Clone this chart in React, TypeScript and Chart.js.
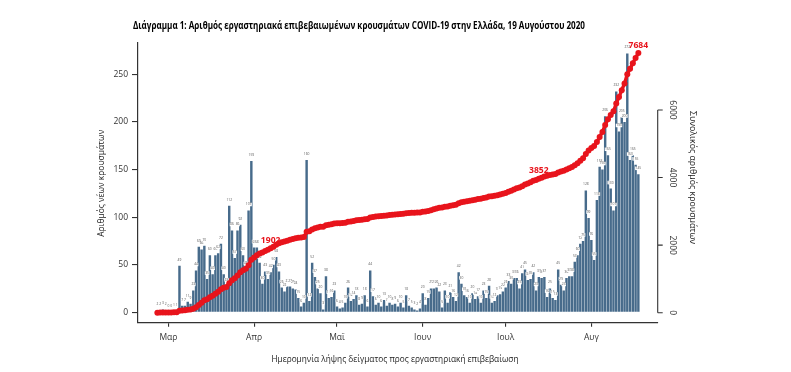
import React, { useEffect, useRef } from "react";
import { Chart, registerables } from "chart.js";

Chart.register(...registerables);

// ---------- DATA ----------
const startDate = { year: 2020, month: 1, day: 26 }; // 26 Feb 2020 (month 0-based)

const febCases = [2, 2, 3, 2];
const marCases = [0, 0, 1, 1, 49, 7, 7, 11, 9, 23, 44, 69, 66, 70, 35, 60, 40, 60, 62, 72, 40, 28, 112, 86, 57, 86, 92, 60, 45, 107, 159];
const aprCases = [68, 68, 52, 30, 43, 35, 42, 50, 58, 43, 26, 22, 27, 27, 25, 24, 15, 6, 10, 160, 12, 52, 37, 25, 20, 3, 38, 15, 16, 23];
const mayCases = [6, 4, 5, 10, 26, 12, 14, 18, 8, 9, 18, 6, 44, 17, 8, 10, 6, 13, 7, 10, 8, 9, 6, 10, 5, 18, 7, 5, 3, 2, 4];
const junCases = [20, 8, 15, 25, 25, 26, 22, 5, 23, 10, 21, 16, 12, 42, 30, 18, 16, 10, 20, 14, 17, 10, 23, 15, 28, 10, 12, 18, 19, 22];
const julCases = [26, 33, 30, 36, 36, 25, 41, 45, 34, 35, 42, 23, 37, 36, 37, 16, 25, 15, 13, 45, 29, 23, 36, 38, 38, 53, 60, 72, 75, 128, 99];
const augCases = [76, 55, 118, 153, 150, 206, 165, 130, 107, 232, 190, 205, 200, 272, 160, 165, 155, 145];

const dailyCases = [...febCases, ...marCases, ...aprCases, ...mayCases, ...junCases, ...julCases, ...augCases];

const monthTickLabels = ["Μαρ", "Απρ", "Μαϊ", "Ιουν", "Ιουλ", "Αυγ"];
const leftTickValues = [0, 50, 100, 150, 200, 250];
const rightTickValues = [0, 2000, 4000, 6000];

const annotationDates = ["2020-04-07", "2020-07-13", "2020-08-18"];
const annotationTexts = ["1902", "3852", "7684"];

const chartTitle = "Διάγραμμα 1: Αριθμός εργαστηριακά επιβεβαιωμένων κρουσμάτων COVID-19 στην Ελλάδα, 19 Αυγούστου 2020";
const xAxisTitle = "Ημερομηνία λήψης δείγματος προς εργαστηριακή επιβεβαίωση";
const leftAxisTitle = "Αριθμός νέων κρουσμάτων";
const rightAxisTitle = "Συνολικός αριθμός κρουσμάτων";

// ---------- DERIVED ----------
const dates = dailyCases.map((_, i) => new Date(Date.UTC(startDate.year, startDate.month, startDate.day + i)));
const isoDates = dates.map((d) => d.toISOString().slice(0, 10));
const monthStartIdx = dates.map((d, i) => (d.getUTCDate() === 1 ? i : -1)).filter((i) => i >= 0);
const cumulative: number[] = [];
dailyCases.reduce((acc, v) => {
  const s = acc + v;
  cumulative.push(s);
  return s;
}, 0);
const annotationIdx = annotationDates.map((d) => isoDates.indexOf(d));

// ---------- STYLE ----------
const BAR_COLOR = "#476b8b";
const RED = "#e8141c";
const AXIS = "#333333";
const FONT = '"Open Sans", "DejaVu Sans", sans-serif';

const overlayPlugin = {
  id: "overlay",
  afterDatasetDraw(chart: any, args: any) {
    if (args.index !== 0) return;
    const ctx = chart.ctx;
    const meta = chart.getDatasetMeta(0);
    ctx.save();
    ctx.font = `3.3px ${FONT}`;
    ctx.textAlign = "center";
    ctx.textBaseline = "middle";
    meta.data.forEach((bar: any, i: number) => {
      const t = String(dailyCases[i]);
      const w = ctx.measureText(t).width + 0.8;
      const h = 3.6;
      const cy = bar.y - 6;
      ctx.fillStyle = "#ffffff";
      ctx.fillRect(bar.x - w / 2, cy - h / 2, w, h);
      ctx.fillStyle = "#555555";
      ctx.fillText(t, bar.x, cy);
    });
    ctx.restore();
  },
  afterDraw(chart: any) {
    const ctx = chart.ctx;
    const area = chart.chartArea;
    const y2 = chart.scales.y2;
    const xs = chart.scales.x;
    ctx.save();

    // right axis
    const rx = area.right;
    ctx.strokeStyle = AXIS;
    ctx.lineWidth = 1.1;
    ctx.beginPath();
    ctx.moveTo(rx, y2.getPixelForValue(rightTickValues[0]));
    ctx.lineTo(rx, y2.getPixelForValue(rightTickValues[rightTickValues.length - 1]));
    rightTickValues.forEach((v) => {
      const py = y2.getPixelForValue(v);
      ctx.moveTo(rx, py);
      ctx.lineTo(rx + 5, py);
    });
    ctx.stroke();
    ctx.fillStyle = AXIS;
    ctx.font = `8.5px ${FONT}`;
    ctx.textAlign = "center";
    ctx.textBaseline = "middle";
    rightTickValues.forEach((v) => {
      const py = y2.getPixelForValue(v);
      ctx.save();
      ctx.translate(rx + 14.5, py);
      ctx.rotate(Math.PI / 2);
      ctx.fillText(String(v), 0, 0);
      ctx.restore();
    });

    // axis titles
    ctx.fillStyle = "#222222";
    ctx.font = `8.8px ${FONT}`;
    ctx.save();
    ctx.translate(693, 177.5);
    ctx.rotate(Math.PI / 2);
    ctx.fillText(rightAxisTitle, 0, 0, 139);
    ctx.restore();

    ctx.save();
    ctx.translate(101.7, 183.3);
    ctx.rotate(-Math.PI / 2);
    ctx.fillText(leftAxisTitle, 0, 0, 107);
    ctx.restore();

    ctx.fillText(xAxisTitle, 395, 359.3, 247);

    // title
    ctx.fillStyle = "#000000";
    ctx.font = `bold 10.2px ${FONT}`;
    ctx.fillText(chartTitle, 359, 26, 452);

    // annotations on cumulative line
    ctx.fillStyle = RED;
    ctx.font = `bold 8.6px ${FONT}`;
    annotationIdx.forEach((idx, k) => {
      if (idx < 0) return;
      const px = xs.getPixelForValue(idx);
      const py = y2.getPixelForValue(cumulative[idx]);
      ctx.fillText(annotationTexts[k], px, py - 8);
    });
    ctx.restore();
  },
};

export default function App() {
  const canvasRef = useRef<HTMLCanvasElement | null>(null);

  useEffect(() => {
    document.body.style.margin = "0";
    const canvas = canvasRef.current;
    if (!canvas) return;
    const chart = new Chart(canvas, {
      type: "bar",
      data: {
        datasets: [
          {
            type: "bar",
            data: dailyCases.map((v, i) => ({ x: i, y: v })),
            backgroundColor: BAR_COLOR,
            borderWidth: 0,
            barPercentage: 0.88,
            categoryPercentage: 1,
            yAxisID: "y",
            order: 2,
          } as any,
          {
            type: "line",
            data: cumulative.map((v, i) => ({ x: i, y: v })),
            borderColor: RED,
            borderWidth: 3.4,
            pointRadius: 3,
            pointBackgroundColor: RED,
            pointBorderWidth: 0,
            tension: 0,
            yAxisID: "y2",
            order: 1,
          } as any,
        ],
      },
      options: {
        animation: false,
        responsive: false,
        devicePixelRatio: 1,
        layout: { padding: { left: 0, right: 133.3, top: 43, bottom: 0 } },
        plugins: {
          legend: { display: false },
          tooltip: { enabled: false },
          title: { display: false },
        },
        scales: {
          x: {
            type: "linear",
            position: "bottom",
            min: -7,
            max: 181,
            offset: false,
            grid: { offset: false, drawOnChartArea: false, drawTicks: true, tickLength: 4, color: AXIS, lineWidth: 1.1 },
            border: { display: true, color: AXIS, width: 1.2 },
            ticks: {
              autoSkip: false,
              maxRotation: 0,
              minRotation: 0,
              padding: 6,
              color: AXIS,
              font: { family: FONT, size: 8.5 },
              callback: (_v: any, i: number) => monthTickLabels[i],
            },
            afterBuildTicks: (s: any) => {
              s.ticks = monthStartIdx.map((v) => ({ value: v }));
            },
            afterFit: (s: any) => {
              s.height = 49.3;
            },
          },
          y: {
            type: "linear",
            position: "left",
            min: -10.9,
            max: 282.9,
            grid: { drawOnChartArea: false, drawTicks: true, tickLength: 6, color: AXIS, lineWidth: 1.1 },
            border: { display: true, color: AXIS, width: 1.2 },
            ticks: { padding: 4, color: AXIS, font: { family: FONT, size: 8.5 } },
            afterBuildTicks: (s: any) => {
              s.ticks = leftTickValues.map((v) => ({ value: v }));
            },
            afterFit: (s: any) => {
              s.width = 138;
            },
          },
          y2: {
            type: "linear",
            position: "right",
            display: false,
            min: -296,
            max: 7983,
          },
        },
      } as any,
      plugins: [overlayPlugin],
    });
    return () => chart.destroy();
  }, []);

  return (
    <div style={{ width: 791, height: 372, background: "#fff" }}>
      <canvas ref={canvasRef} width={791} height={372} style={{ display: "block" }} />
    </div>
  );
}
